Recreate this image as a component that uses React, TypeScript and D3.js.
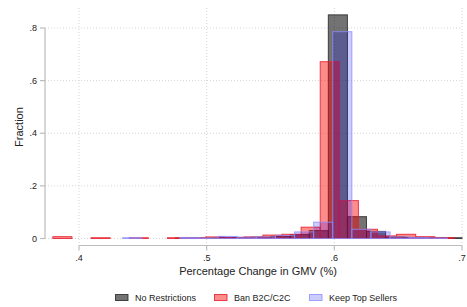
import { useEffect, useRef } from 'react'
import * as d3 from 'd3'

// Histogram bins (Stata style: each series has its own start, common width)
const binWidth = 0.01496

const noRestrictionsStart = 0.4756
const noRestrictions = [0.002, 0.002, 0.003, 0.004, 0.005, 0.008, 0.015, 0.03, 0.85, 0.083, 0.027, 0.006, 0.004, 0.003, 0.003]

const banStart = 0.3795
const banB2C = [0.007, 0, 0.003, 0, 0.003, 0, 0.003, 0.003, 0.006, 0.003, 0.006, 0.013, 0.016, 0.043, 0.672, 0.144, 0.035, 0.01, 0.016, 0.007, 0.003]

const keepStart = 0.4342
const keepTopSellers = [0.003, 0, 0, 0.004, 0.002, 0.008, 0.005, 0.006, 0.012, 0.025, 0.062, 0.786, 0.035, 0.025, 0.006, 0.004, 0.002]

const xTicks = [0.4, 0.5, 0.6, 0.7]
const yTicks = [0, 0.2, 0.4, 0.6, 0.8]
const fmt = (v: number) => (v === 0 ? '0' : String(v).replace(/^0/, ''))

const series = [
  { label: 'No Restrictions', start: noRestrictionsStart, values: noRestrictions, fill: '#000', fillOpacity: 0.55, stroke: '#222', strokeOpacity: 0.8 },
  { label: 'Ban B2C/C2C', start: banStart, values: banB2C, fill: '#ff0000', fillOpacity: 0.45, stroke: '#e8202e', strokeOpacity: 0.85 },
  { label: 'Keep Top Sellers', start: keepStart, values: keepTopSellers, fill: '#0000ff', fillOpacity: 0.2, stroke: '#8c8cff', strokeOpacity: 0.8 }
]

function App() {
  const svgRef = useRef<SVGSVGElement>(null)

  useEffect(() => {
    if (!svgRef.current) return
    const svg = d3.select(svgRef.current)
    svg.selectAll('*').remove()

    const font = '"Liberation Sans", Arial, sans-serif'
    const x = d3.scaleLinear().domain([0.4, 0.7]).range([79, 462])
    const y = d3.scaleLinear().domain([0, 0.8]).range([238.5, 28])
    const plotLeft = 45
    const plotTop = 8
    const axisY = 245.5

    svg.append('rect').attr('width', 467).attr('height', 307).attr('fill', '#fff')

    // Grid
    svg.append('g').selectAll('line').data(yTicks).enter().append('line')
      .attr('x1', plotLeft).attr('x2', 462)
      .attr('y1', d => y(d)).attr('y2', d => y(d))
      .attr('stroke', '#d4d4d4').attr('stroke-width', 1).attr('stroke-dasharray', '1,2')

    svg.append('g').selectAll('line').data(xTicks).enter().append('line')
      .attr('x1', d => x(d)).attr('x2', d => x(d))
      .attr('y1', plotTop).attr('y2', axisY)
      .attr('stroke', '#d4d4d4').attr('stroke-width', 1).attr('stroke-dasharray', '1,2')

    // Bars
    series.forEach(s => {
      const bins = s.values.map((v, i) => ({ x0: s.start + i * binWidth, x1: s.start + (i + 1) * binWidth, v }))
        .filter(b => b.v > 0)
      svg.append('g').selectAll('rect').data(bins).enter().append('rect')
        .attr('x', d => x(d.x0))
        .attr('width', d => x(d.x1) - x(d.x0))
        .attr('y', d => y(d.v))
        .attr('height', d => y(0) - y(d.v))
        .attr('fill', s.fill).attr('fill-opacity', s.fillOpacity)
        .attr('stroke', s.stroke).attr('stroke-opacity', s.strokeOpacity).attr('stroke-width', 1)
    })

    // Axes
    const axisColor = '#bdbdbd'
    svg.append('line').attr('x1', plotLeft).attr('x2', plotLeft).attr('y1', y(0.8)).attr('y2', y(0))
      .attr('stroke', axisColor).attr('stroke-width', 1.2)
    svg.append('g').selectAll('line').data(yTicks).enter().append('line')
      .attr('x1', plotLeft - 5).attr('x2', plotLeft)
      .attr('y1', d => y(d)).attr('y2', d => y(d))
      .attr('stroke', axisColor).attr('stroke-width', 1.2)
    svg.append('g').selectAll('text').data(yTicks).enter().append('text')
      .attr('x', 37).attr('y', d => y(d) + 3)
      .attr('text-anchor', 'end')
      .style('font-family', font).style('font-size', '9px').style('fill', '#222')
      .text(d => fmt(d))

    svg.append('line').attr('x1', x(0.4)).attr('x2', x(0.7)).attr('y1', axisY).attr('y2', axisY)
      .attr('stroke', axisColor).attr('stroke-width', 1.2)
    svg.append('g').selectAll('line').data(xTicks).enter().append('line')
      .attr('x1', d => x(d)).attr('x2', d => x(d))
      .attr('y1', axisY).attr('y2', axisY + 5)
      .attr('stroke', axisColor).attr('stroke-width', 1.2)
    svg.append('g').selectAll('text').data(xTicks).enter().append('text')
      .attr('x', d => x(d)).attr('y', 261)
      .attr('text-anchor', 'middle')
      .style('font-family', font).style('font-size', '9px').style('fill', '#222')
      .text(d => fmt(d))

    // Titles
    svg.append('text')
      .attr('x', 258).attr('y', 275)
      .attr('text-anchor', 'middle')
      .style('font-family', font).style('font-size', '11px').style('fill', '#222')
      .text('Percentage Change in GMV (%)')

    svg.append('text')
      .attr('transform', 'translate(23,127) rotate(-90)')
      .attr('text-anchor', 'middle')
      .style('font-family', font).style('font-size', '11px').style('fill', '#222')
      .text('Fraction')

    // Legend
    const legendX = [115, 214, 309]
    series.forEach((s, i) => {
      const g = svg.append('g').attr('transform', `translate(${legendX[i]},294)`)
      g.append('rect')
        .attr('x', 0.5).attr('y', 0.5).attr('width', 12.5).attr('height', 6)
        .attr('fill', s.fill).attr('fill-opacity', s.fillOpacity)
        .attr('stroke', s.stroke).attr('stroke-opacity', s.strokeOpacity)
      g.append('text')
        .attr('x', 20).attr('y', 6.5)
        .style('font-family', font).style('font-size', '9px').style('fill', '#222')
        .text(s.label)
    })
  }, [])

  return (
    <svg ref={svgRef} width={467} height={307} style={{ position: 'absolute', left: 0, top: 0 }}></svg>
  )
}

export default App
